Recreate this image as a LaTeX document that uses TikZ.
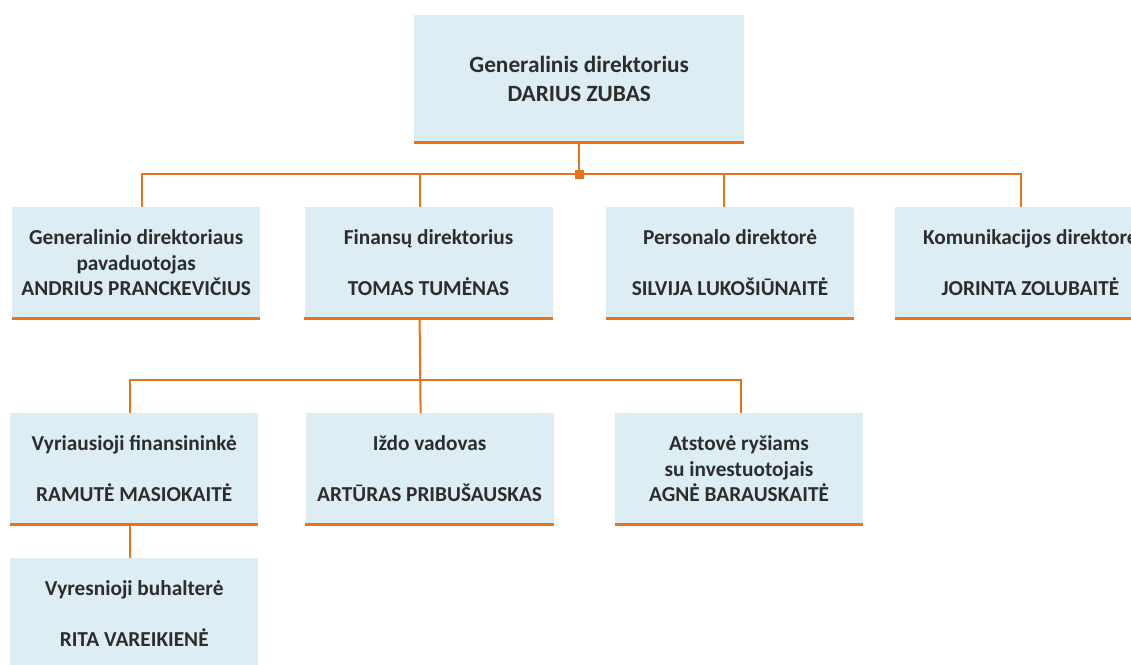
\documentclass[tikz,border=0pt]{standalone}
\usepackage{fontspec}
\setmainfont{Carlito}
\usepackage{xcolor}
\definecolor{lblue}{RGB}{220,237,243}
\definecolor{dorange}{RGB}{232,115,26}
\definecolor{dtext}{RGB}{45,45,45}
\usetikzlibrary{positioning, calc}
\tikzstyle{Box} = [
fill=lblue,
text=dtext,
font=\bfseries\fontsize{21.3}{25.5}\selectfont,
align=center,
inner sep=0pt,
minimum width=248pt,
minimum height=111pt,
execute at begin node={\rule{0pt}{28pt}}]
\tikzstyle{BoxTop} = [
Box,
font=\bfseries\fontsize{23.3}{29.5}\selectfont,
minimum width=330pt,
minimum height=127pt,
execute at begin node={}]
\tikzstyle{Line} = [
line width=2pt,
dorange]
\tikzstyle{Base} = [
line width=3pt,
dorange]

\begin{document}
\begin{tikzpicture}[x=1pt, y=-1pt, node distance=44pt]
    \useasboundingbox (0,0) rectangle (1131,664);
    \clip (0,0) rectangle (1131,664);

    \node [BoxTop, anchor=north west] at (414,15) (1) {Generalinis direktorius\\DARIUS ZUBAS};
    \node [Box, anchor=north west] at (12,207) (2) {Generalinio direktoriaus\\pavaduotojas\\ANDRIUS PRANCKEVIČIUS};
    \node [Box, right =44pt of 2] (3) {Finansų direktorius\\[25.5pt]TOMAS TUMĖNAS};
    \node [Box, right =53pt of 3] (4) {Personalo direktorė\\[25.5pt]SILVIJA LUKOŠIŪNAITĖ};
    \node [Box, right =41pt of 4, minimum width=270pt] (5) {Komunikacijos direktorė\\[25.5pt]JORINTA ZOLUBAITĖ};
    \node [Box, anchor=north west] at (10,413) (6) {Vyriausioji finansininkė\\[25.5pt]RAMUTĖ MASIOKAITĖ};
    \node [Box, right =47pt of 6] (7) {Iždo vadovas\\[25.5pt]ARTŪRAS PRIBUŠAUSKAS};
    \node [Box, right =61pt of 7] (8) {Atstovė ryšiams\\su investuotojais\\AGNĖ BARAUSKAITĖ};
    \node [Box, anchor=north west] at (10,558) (9) {Vyresnioji buhalterė\\[25.5pt]RITA VAREIKIENĖ};

    % orange base lines
    \foreach \n in {1,...,9}
        \draw[Base] (\n.south west) -- (\n.south east);

    % first level
    \coordinate (k) at (1.south |- 0,174);
    \draw[Line] (1.south) -- (k);
    \draw[Line] ([xshift=5.5pt]2.north) |- (k) -| ([xshift=-9pt]5.north);
    \draw[Line] ([xshift=-9pt]3.north) -- ([xshift=-9pt]3.north |- k);
    \draw[Line] ([xshift=-6pt]4.north) -- ([xshift=-6pt]4.north |- k);
    \node [fill=dorange, inner sep=0pt, minimum size=9pt] (j) at (k) {};

    % finance
    \coordinate (f) at ([xshift=-9pt]3.south |- 0,380);
    \draw[Line] ([xshift=-9pt]3.south) -- ([xshift=-9pt]7.north);
    \draw[Line] ([xshift=-4pt]6.north) |- (f) -| ([xshift=2pt]8.north);
    \draw[Line] ([xshift=-4pt]6.south) -- ([xshift=-4pt]9.north);
\end{tikzpicture}
\end{document}
